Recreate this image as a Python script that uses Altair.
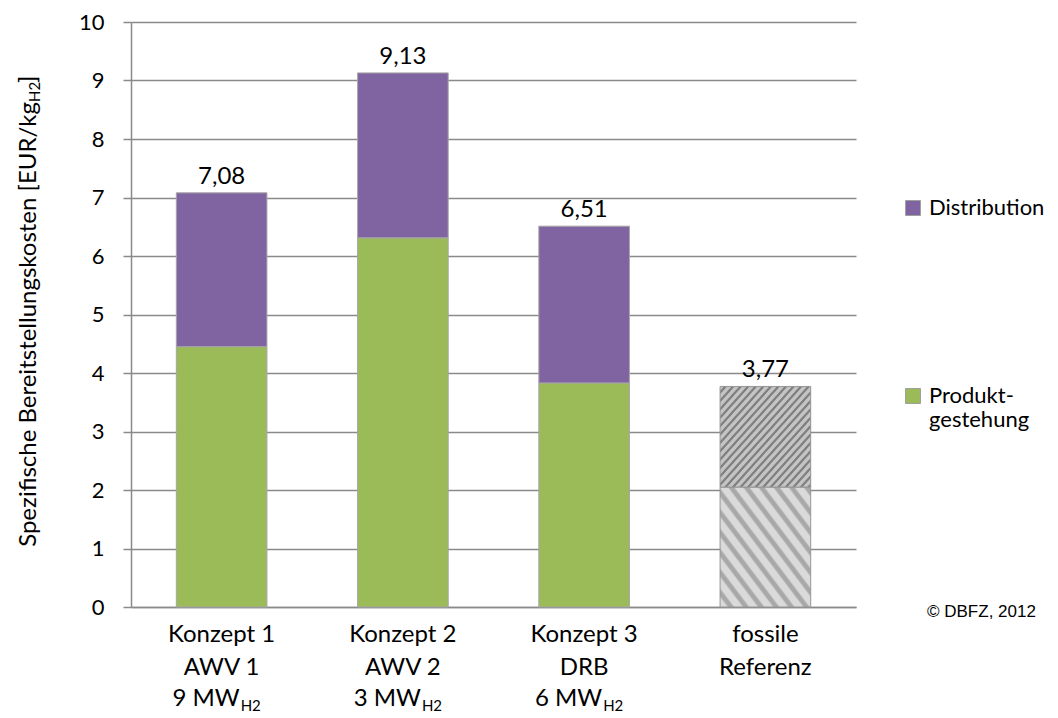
import altair as alt
import pandas as pd

# ---------------- data ----------------
categories = ["Konzept 1", "Konzept 2", "Konzept 3", "fossile Referenz"]
label_line1 = ["Konzept 1", "Konzept 2", "Konzept 3", "fossile"]
label_line2 = ["AWV 1", "AWV 2", "DRB", "Referenz"]
label_line3 = ["9 MW", "3 MW", "6 MW", ""]
label_sub = ["H2", "H2", "H2", ""]

concepts = ["Konzept 1", "Konzept 2", "Konzept 3"]
produktgestehung = [4.45, 6.31, 3.83]
distribution = [2.63, 2.82, 2.68]

fossil_category = "fossile Referenz"
fossil_lower = 2.05
fossil_upper = 1.72

totals = [7.08, 9.13, 6.51, 3.77]

segments = ["Distribution", "Produktgestehung"]
segment_colors = ["#8064a2", "#9bbb59"]

y_title_main = "Spezifische Bereitstellungskosten [EUR/kg"
y_title_sub = "H2"
y_title_end = "]"
copyright_text = "© DBFZ, 2012"

# ---------------- tables ----------------
rows = []
for c, p, d in zip(concepts, produktgestehung, distribution):
    rows.append({"cat": c, "segment": "Produktgestehung", "value": p, "order": 0})
    rows.append({"cat": c, "segment": "Distribution", "value": d, "order": 1})
concept_df = pd.DataFrame(rows)

fossil_df = pd.DataFrame({
    "cat": [fossil_category, fossil_category],
    "part": ["unten", "oben"],
    "start": [0, fossil_lower],
    "end": [fossil_lower, fossil_lower + fossil_upper],
})

total_df = pd.DataFrame({"cat": categories, "total": totals})
label_df = pd.DataFrame({"cat": categories, "l1": label_line1, "l2": label_line2,
                         "l3": label_line3, "sub": label_sub})

FONT = "Lato"
FS = 24
FS_TICK = 22
FS_LEG = 22
FS_SUB = 15
GRID = "#8a8a8a"

x_scale = alt.Scale(domain=categories, paddingInner=0.5, paddingOuter=0.25)
y_scale = alt.Scale(domain=[0, 10], nice=False)
x_axis = alt.Axis(labels=False, ticks=False, title=None, grid=False,
                  domainColor=GRID, domainWidth=1.5)
y_axis = alt.Axis(values=list(range(11)), title=None, grid=True, gridColor=GRID,
                  gridWidth=1.5, domainColor=GRID, domainWidth=1.5, tickColor=GRID,
                  tickWidth=1.5, tickSize=8, labelFont=FONT, labelFontSize=FS_TICK,
                  labelColor="black", labelPadding=19)

X = alt.X("cat:N", scale=x_scale, axis=x_axis, sort=categories)


def stripes(bg, fg, n, x1, y1, x2, y2):
    stops = []
    for i in range(n):
        o = i / n
        stops.append({"offset": o, "color": bg})
        stops.append({"offset": o + 0.45 / n, "color": bg})
        stops.append({"offset": o + 0.6 / n, "color": fg})
        stops.append({"offset": o + 0.85 / n, "color": fg})
    stops.append({"offset": 1, "color": bg})
    return {"gradient": "linear", "x1": x1, "y1": y1, "x2": x2, "y2": y2, "stops": stops}


grad_lower = stripes("#dadada", "#a8a8a8", 12, 0, 1, 1, 0)
grad_upper = stripes("#c4c4c4", "#808080", 24, 0, 0, 1, 1)

bars = alt.Chart(concept_df).mark_bar(stroke="#a6a6a6", strokeWidth=1).encode(
    x=X,
    y=alt.Y("value:Q", stack="zero", scale=y_scale, axis=y_axis),
    color=alt.Color("segment:N", scale=alt.Scale(domain=segments, range=segment_colors),
                    legend=alt.Legend(orient="none", legendX=771, legendY=175, title=None,
                                      symbolType="square", symbolSize=225,
                                      symbolStrokeColor="#a0a0a0", symbolStrokeWidth=1,
                                      labelFont=FONT, labelFontSize=FS_LEG, labelColor="black",
                                      labelOffset=5, rowPadding=166, labelLimit=200,
                                      labelExpr="datum.label == 'Produktgestehung' ? ['Produkt-', 'gestehung'] : datum.label")),
    order=alt.Order("order:Q"),
)

fossil_low = alt.Chart(fossil_df).transform_filter(alt.datum.part == "unten").mark_bar(
    fill=grad_lower, stroke="#969696", strokeWidth=1).encode(
    x=X, y=alt.Y("start:Q", scale=y_scale, axis=y_axis), y2="end:Q")

fossil_up = alt.Chart(fossil_df).transform_filter(alt.datum.part == "oben").mark_bar(
    fill=grad_upper, stroke="#969696", strokeWidth=1).encode(
    x=X, y=alt.Y("start:Q", scale=y_scale, axis=y_axis), y2="end:Q")

values = alt.Chart(total_df).transform_calculate(
    lbl="replace(format(datum.total, '.2f'), '.', ',')"
).mark_text(font=FONT, fontSize=FS, color="black", baseline="alphabetic", dy=-9).encode(
    x=X, y=alt.Y("total:Q", scale=y_scale, axis=y_axis), text="lbl:N")

txt = dict(font=FONT, fontSize=FS, color="black", baseline="alphabetic")
line1 = alt.Chart(label_df).mark_text(**txt).encode(x=X, y=alt.value(619.5), text="l1:N")
line2 = alt.Chart(label_df).mark_text(**txt).encode(x=X, y=alt.value(652.5), text="l2:N")
line3 = alt.Chart(label_df).mark_text(align="right", dx=18, **txt).encode(
    x=X, y=alt.value(683.5), text="l3:N")
line3s = alt.Chart(label_df).mark_text(align="left", dx=19, font=FONT, fontSize=FS_SUB,
                                       color="black", baseline="alphabetic").encode(
    x=X, y=alt.value(688.5), text="sub:N")

title_df = pd.DataFrame({"a": [y_title_main], "b": [y_title_sub], "c": [y_title_end]})
t_main = alt.Chart(title_df).mark_text(angle=270, align="right", baseline="middle",
                                       font=FONT, fontSize=FS, color="black").encode(
    x=alt.value(-102), y=alt.value(80), text="a:N")
t_sub = alt.Chart(title_df).mark_text(angle=270, align="left", baseline="middle",
                                      font=FONT, fontSize=FS_SUB, color="black").encode(
    x=alt.value(-96), y=alt.value(80), text="b:N")
t_end = alt.Chart(title_df).mark_text(angle=270, align="left", baseline="middle",
                                      font=FONT, fontSize=FS, color="black").encode(
    x=alt.value(-102), y=alt.value(61), text="c:N")

copy = alt.Chart(pd.DataFrame({"t": [copyright_text]})).mark_text(
    align="left", baseline="middle", font="Liberation Sans", fontSize=17, color="black"
).encode(x=alt.value(796), y=alt.value(589.5), text="t:N")

chart = alt.layer(bars, fossil_low, fossil_up, values, line1, line2, line3, line3s,
                  t_main, t_sub, t_end, copy).properties(
    width=725, height=585,
    padding={"left": 123, "top": 14, "right": 194, "bottom": 110},
    autosize=alt.AutoSizeParams(type="none"),
).configure_view(stroke=None)

chart.save("out.html", embed_options={"renderer": "svg", "actions": False})
